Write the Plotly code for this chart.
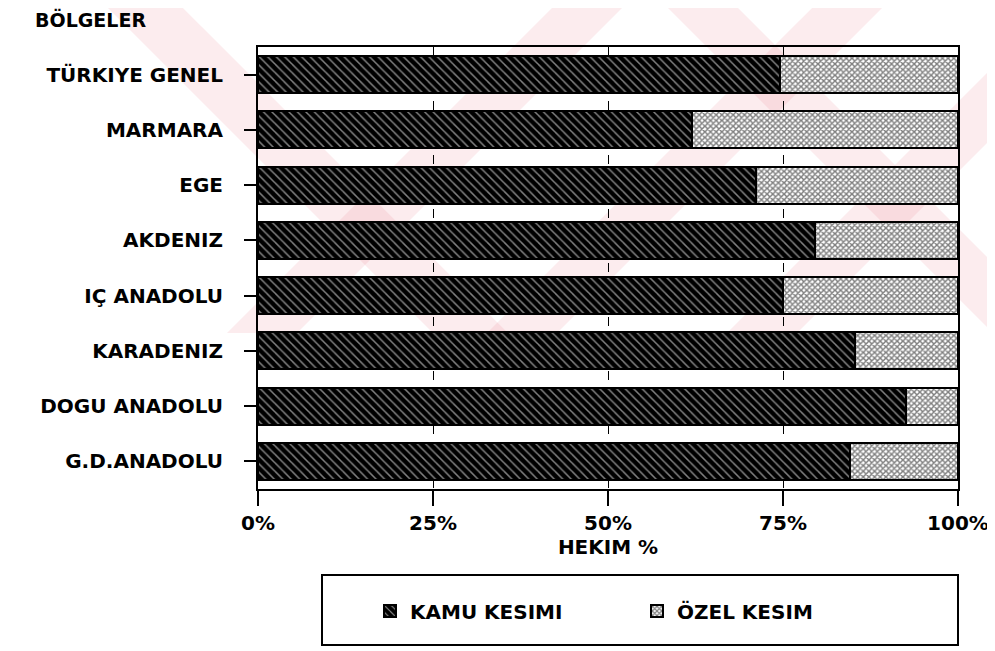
import plotly.graph_objects as go

# regions, top to bottom as in the chart
bolgeler = ["TÜRKIYE GENEL", "MARMARA", "EGE", "AKDENIZ", "IÇ ANADOLU",
            "KARADENIZ", "DOGU ANADOLU", "G.D.ANADOLU"]
kamu = [74.6, 62.0, 71.2, 79.6, 75.0, 85.3, 92.6, 84.6]
ozel = [round(100 - k, 1) for k in kamu]

tick_vals = [0, 25, 50, 75, 100]
tick_text = ["0%", "25%", "50%", "75%", "100%"]

# the page body has an 8px margin, so the figure starts at (8, 8)
OFF = 8
FW, FH = 995 - OFF, 651 - OFF
# plot box in page pixels
L, R, T, B = 258, 958, 47, 489
W, H = R - L, B - T


def px(x, y):
    # page pixel position -> paper coordinates
    return (x - L) / W, (B - y) / H


def band(x_top, x_bot, width, y_bot=333):
    pts = [(x_top, 0), (x_top + width, 0), (x_bot + width, y_bot), (x_bot, y_bot)]
    pts = [px(x, y) for x, y in pts]
    return "M " + " L ".join("{:.4f},{:.4f}".format(a, b) for a, b in pts) + " Z"


fig = go.Figure()

fig.add_trace(go.Bar(
    y=bolgeler, x=kamu, orientation="h", name="KAMU KESIMI",
    marker=dict(color="black", line=dict(color="black", width=2),
                pattern=dict(shape="\\", fgcolor="white", bgcolor="black",
                             size=6, solidity=0.25)),
))
fig.add_trace(go.Bar(
    y=bolgeler, x=ozel, orientation="h", name="ÖZEL KESIM",
    marker=dict(color="white", line=dict(color="black", width=2),
                pattern=dict(shape="x", fgcolor="black", bgcolor="white",
                             size=4, solidity=0.6)),
))

# faint scanned watermark bands
wm = [band(100, 433, 75), band(560, 227, 70), band(820, 487, 70),
      band(1060, 727, 70), band(660, 993, 70)]
shapes = [dict(type="path", path=p, xref="paper", yref="paper", layer="below",
               fillcolor="rgba(235,120,135,0.14)", line=dict(width=0)) for p in wm]

# legend frame
x0, y0 = px(322, 575)
x1, y1 = px(958, 645)
shapes.append(dict(type="rect", xref="paper", yref="paper", x0=x0, y0=y0, x1=x1, y1=y1,
                   line=dict(color="black", width=2), fillcolor="rgba(0,0,0,0)"))

lx, ly = px(370, 611)
tx, ty = px(33, 20)

fig.update_layout(
    barmode="stack",
    bargap=0.33,
    width=FW, height=FH,
    margin=dict(l=L - OFF, r=995 - R, t=T - OFF, b=651 - B, autoexpand=False),
    paper_bgcolor="white",
    plot_bgcolor="white",
    font=dict(family="DejaVu Sans", size=20, color="black", weight="bold"),
    showlegend=True,
    legend=dict(orientation="h", x=lx, y=ly, xanchor="left", yanchor="middle",
                entrywidth=222, entrywidthmode="pixels", bgcolor="rgba(0,0,0,0)",
                font=dict(size=20, weight="bold"), traceorder="normal"),
    shapes=shapes,
    annotations=[dict(text="BÖLGELER", x=tx, y=ty, xref="paper", yref="paper",
                      xanchor="left", yanchor="middle", showarrow=False,
                      font=dict(size=19, weight="bold"))],
)

fig.update_xaxes(
    range=[0, 100], tickvals=tick_vals, ticktext=tick_text,
    ticks="outside", ticklen=15, tickwidth=2, tickcolor="black",
    showline=True, linecolor="black", linewidth=2, mirror=True,
    showgrid=True, gridcolor="black", griddash="dash", gridwidth=1,
    zeroline=False, automargin=False,
    title=dict(text="HEKIM %", standoff=2, font=dict(size=20, weight="bold")),
)
fig.update_yaxes(
    categoryorder="array", categoryarray=bolgeler[::-1],
    ticks="outside", ticklen=12, tickwidth=2, tickcolor="black",
    showline=True, linecolor="black", linewidth=2, mirror=True,
    showgrid=False, ticklabelstandoff=17, automargin=False,
)

fig.write_html("out.html")
